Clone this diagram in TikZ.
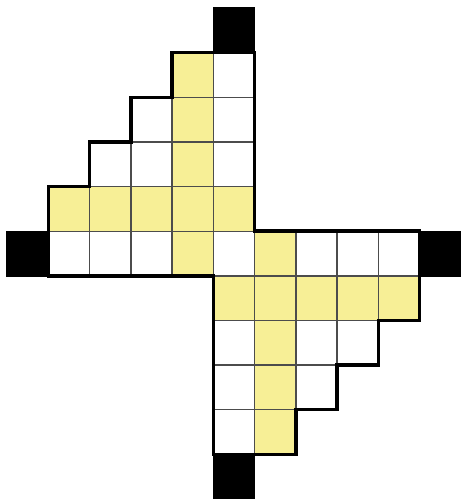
\documentclass[tikz,border=0pt]{standalone}
\usepackage{tikz}

\definecolor{cellyellow}{RGB}{247,239,150}

\begin{document}
\begin{tikzpicture}[
  x=0.4127cm, y=-0.4464cm,
  whitecell/.style={fill=white, draw=black!70, line width=0.4pt},
  yellowcell/.style={fill=cellyellow, draw=black!70, line width=0.4pt},
  blackcell/.style={fill=black, draw=black, line width=0.4pt},
  thickborder/.style={draw=black, line width=1pt, line join=miter}
]
\useasboundingbox (-0.17,-0.18) rectangle (11,11);

\foreach \c/\r in {5/1, 3/2, 5/2, 2/3, 3/3, 5/3, 1/5, 2/5, 3/5, 5/5, 7/5, 8/5, 9/5,
                   5/7, 7/7, 8/7, 5/8, 7/8, 5/9}
  \draw[whitecell] (\c,\r) rectangle ++(1,1);
\foreach \c/\r in {4/1, 4/2, 4/3, 1/4, 2/4, 3/4, 4/4, 5/4, 4/5, 6/5,
                   5/6, 6/6, 7/6, 8/6, 9/6, 6/7, 6/8, 6/9}
  \draw[yellowcell] (\c,\r) rectangle ++(1,1);
\foreach \c/\r in {5/0, 0/5, 10/5, 5/10}
  \draw[blackcell] (\c,\r) rectangle ++(1,1);

\draw[thickborder] (1,4) -- (2,4) -- (2,3) -- (3,3) -- (3,2) -- (4,2) -- (4,1) -- (6,1)
  -- (6,5) -- (10,5) -- (10,7) -- (9,7) -- (9,8) -- (8,8) -- (8,9) -- (7,9) -- (7,10)
  -- (5,10) -- (5,6) -- (1,6) -- cycle;

\end{tikzpicture}
\end{document}
